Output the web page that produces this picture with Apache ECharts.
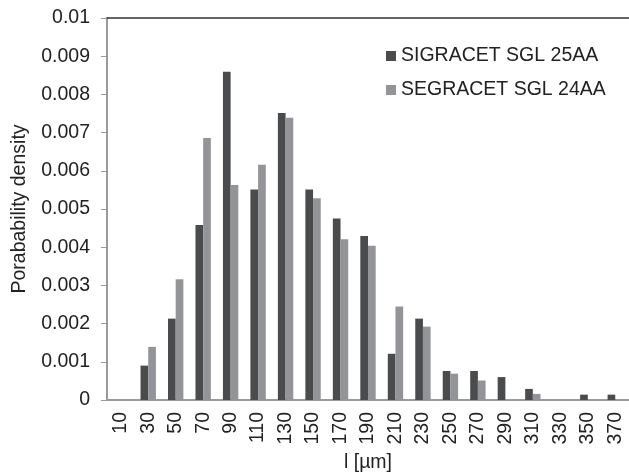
<!DOCTYPE html>
<html>
<head>
<meta charset="utf-8">
<script src="https://cdn.jsdelivr.net/npm/echarts@6/dist/echarts.min.js"></script>
<style>
  html, body { margin: 0; padding: 0; background: #ffffff; }
  #chart { width: 629px; height: 473px; }
</style>
</head>
<body>
<div id="chart"></div>
<script>
// Pore length classes (µm)
const categories = ['10', '30', '50', '70', '90', '110', '130', '150', '170', '190',
  '210', '230', '250', '270', '290', '310', '330', '350', '370'];

// Probability density per class
const sgl25AA = [null, 0.00090, 0.00213, 0.00458, 0.00859, 0.00551, 0.00751, 0.00551, 0.00475, 0.00429,
  0.00121, 0.00213, 0.00076, 0.00076, 0.00060, 0.00029, null, 0.00014, 0.00014];
const sgl24AA = [null, 0.00139, 0.00316, 0.00686, 0.00563, 0.00616, 0.00739, 0.00528, 0.00421, 0.00404,
  0.00245, 0.00192, 0.00069, 0.00051, null, 0.00016, null, null, null];

const seriesNames = ['SIGRACET SGL 25AA', 'SEGRACET SGL 24AA'];
const yTicks = ['0', '0.001', '0.002', '0.003', '0.004', '0.005', '0.006', '0.007', '0.008', '0.009', '0.01'];

const FONT = 'Liberation Sans, Arial, sans-serif';
const FS = 19.5;
const TXT = '#222222';

const chart = echarts.init(document.getElementById('chart'), null, { renderer: 'canvas' });

chart.setOption({
  animation: false,
  backgroundColor: '#ffffff',
  textStyle: { fontFamily: FONT },
  grid: { left: 107, right: 0, top: 18, bottom: 73, containLabel: false, outerBoundsMode: 'none' },
  legend: {
    orient: 'vertical',
    left: 386,
    top: 46,
    padding: 0,
    itemWidth: 10,
    itemHeight: 10,
    itemGap: 14,
    icon: 'rect',
    textStyle: { fontFamily: FONT, fontSize: FS, color: TXT, lineHeight: 19 },
    data: seriesNames
  },
  xAxis: [
    {
      type: 'category',
      data: categories,
      position: 'bottom',
      name: 'l [µm]',
      nameLocation: 'middle',
      nameGap: 51,
      nameTextStyle: { fontFamily: FONT, fontSize: FS, color: TXT },
      axisLine: { show: true, lineStyle: { color: '#9a9a9a', width: 2 } },
      axisTick: { show: false },
      axisLabel: {
        rotate: 90,
        margin: 12,
        interval: 0,
        fontFamily: FONT,
        fontSize: FS,
        color: TXT
      },
      splitLine: { show: false }
    },
    {
      // top frame line
      type: 'category',
      data: categories,
      position: 'top',
      axisLine: { show: true, lineStyle: { color: '#333333', width: 1.5 } },
      axisTick: { show: false },
      axisLabel: { show: false },
      splitLine: { show: false }
    }
  ],
  yAxis: {
    type: 'value',
    min: 0,
    max: 0.01,
    interval: 0.001,
    name: 'Porabability density',
    nameLocation: 'middle',
    nameGap: 77,
    nameTextStyle: { fontFamily: FONT, fontSize: FS, color: TXT },
    axisLine: { show: true, lineStyle: { color: '#9a9a9a', width: 2 } },
    axisTick: { show: true, inside: false, length: 6, lineStyle: { color: '#9a9a9a', width: 1 } },
    axisLabel: {
      margin: 17,
      fontFamily: FONT,
      fontSize: FS,
      color: TXT,
      formatter: (v) => yTicks[Math.round(v / 0.001)]
    },
    splitLine: { show: false }
  },
  series: [
    {
      name: seriesNames[0],
      type: 'bar',
      data: sgl25AA,
      barGap: '0%',
      barCategoryGap: '44%',
      itemStyle: { color: '#4a4b4d' }
    },
    {
      name: seriesNames[1],
      type: 'bar',
      data: sgl24AA,
      barGap: '0%',
      barCategoryGap: '44%',
      itemStyle: { color: '#939497' }
    }
  ]
});
</script>
</body>
</html>
